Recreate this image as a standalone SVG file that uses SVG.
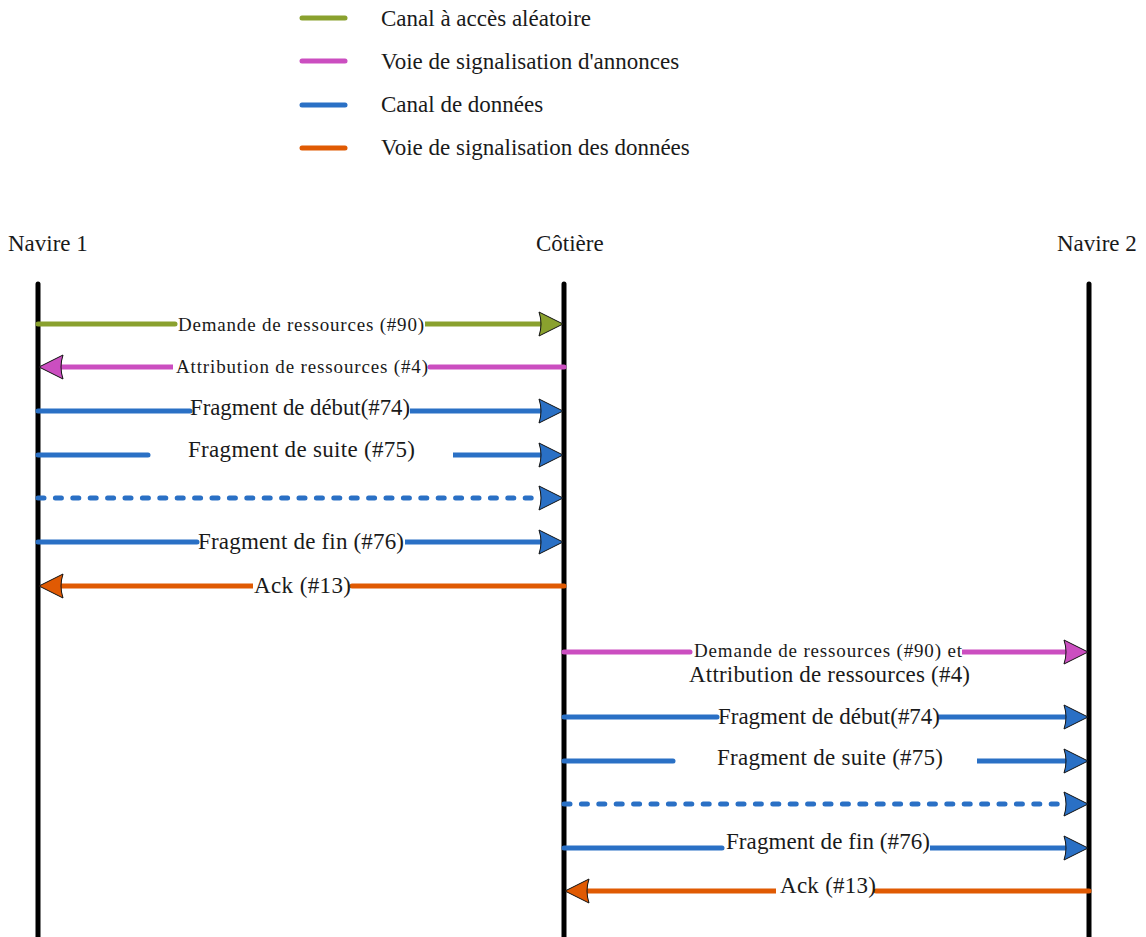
<svg xmlns="http://www.w3.org/2000/svg" width="1146" height="937" viewBox="0 0 1146 937">
  <style>
    text { font-family: "Liberation Serif", "Times New Roman", serif; fill: #1a1a1a; }
    .t { font-size: 23px; }
    .s { font-size: 19px; }
    .life { stroke: #000; stroke-width: 5; stroke-linecap: round; fill: none; }
    .ln { stroke-width: 5; stroke-linecap: round; fill: none; }
    .ln.cut { stroke-linecap: butt; }
    .green { stroke: #8AA12E; }
    .pink { stroke: #CB4EC0; }
    .blue { stroke: #2A70C5; }
    .orange { stroke: #E05A03; }
    .dot { stroke-dasharray: 6 11.4; }
    .head { stroke: #111; stroke-width: 1; }
    .hg { fill: #8AA12E; }
    .hp { fill: #CB4EC0; }
    .hb { fill: #2A70C5; }
    .ho { fill: #E05A03; }
  </style>
  <defs>
    <!-- arrowheads drawn with the tip at the origin -->
    <path id="headR" d="M0,0 L-24,-12 Q-20,0 -24,12 Z"/>
    <path id="headL" d="M0,0 L24,-12 Q20,0 24,12 Z"/>
  </defs>
  <rect width="1146" height="937" fill="#fff"/>

  <!-- legend -->
  <g id="legend">
    <line class="ln green" x1="302" y1="18" x2="345" y2="18"/>
    <text class="t" x="381" y="26">Canal à accès aléatoire</text>
    <line class="ln pink" x1="302" y1="61" x2="345" y2="61"/>
    <text class="t" x="381" y="69">Voie de signalisation d'annonces</text>
    <line class="ln blue" x1="302" y1="105" x2="345" y2="105"/>
    <text class="t" x="381" y="112">Canal de données</text>
    <line class="ln orange" x1="302" y1="148" x2="345" y2="148"/>
    <text class="t" x="381" y="155">Voie de signalisation des données</text>
  </g>

  <!-- participants -->
  <g id="navire1">
    <text class="t" x="8" y="251">Navire 1</text>
    <line class="life" x1="38" y1="284" x2="38" y2="945"/>
  </g>
  <g id="cotiere">
    <text class="t" x="536" y="251">Côtière</text>
    <line class="life" x1="564" y1="284" x2="564" y2="945"/>
  </g>
  <g id="navire2">
    <text class="t" x="1057" y="251">Navire 2</text>
    <line class="life" x1="1089" y1="284" x2="1089" y2="945"/>
  </g>

  <!-- messages -->
  <g id="connectors">
    <!-- Navire 1 <-> Côtière -->
    <g id="m1">
      <line class="ln green" x1="38" y1="324" x2="175" y2="324"/>
      <line class="ln cut green" x1="425" y1="324" x2="542" y2="324"/>
      <use href="#headR" class="head hg" x="563" y="324"/>
      <text class="s" x="178" y="331" textLength="246" lengthAdjust="spacing">Demande de ressources (#90)</text>
    </g>
    <g id="m2">
      <line class="ln cut pink" x1="61" y1="367" x2="173" y2="367"/>
      <line class="ln pink" x1="430" y1="367" x2="564" y2="367"/>
      <use href="#headL" class="head hp" x="39" y="367"/>
      <text class="s" x="176" y="373" textLength="252" lengthAdjust="spacing">Attribution de ressources (#4)</text>
    </g>
    <g id="m3">
      <line class="ln blue" x1="38" y1="411" x2="190" y2="411"/>
      <line class="ln cut blue" x1="410" y1="411" x2="542" y2="411"/>
      <use href="#headR" class="head hb" x="563" y="411"/>
      <text class="t" x="190" y="415" textLength="220" lengthAdjust="spacingAndGlyphs">Fragment de début(#74)</text>
    </g>
    <g id="m4">
      <line class="ln blue" x1="38" y1="455" x2="148" y2="455"/>
      <line class="ln cut blue" x1="453" y1="455" x2="542" y2="455"/>
      <use href="#headR" class="head hb" x="563" y="455"/>
      <text class="t" x="188" y="457" textLength="227" lengthAdjust="spacing">Fragment de suite (#75)</text>
    </g>
    <g id="m5">
      <line class="ln blue dot" x1="38" y1="498" x2="540" y2="498"/>
      <use href="#headR" class="head hb" x="563" y="498"/>
    </g>
    <g id="m6">
      <line class="ln blue" x1="38" y1="542" x2="197" y2="542"/>
      <line class="ln cut blue" x1="405" y1="542" x2="542" y2="542"/>
      <use href="#headR" class="head hb" x="563" y="542"/>
      <text class="t" x="198" y="549" textLength="206" lengthAdjust="spacing">Fragment de fin (#76)</text>
    </g>
    <g id="m7">
      <line class="ln cut orange" x1="61" y1="586" x2="253" y2="586"/>
      <line class="ln orange" x1="352" y1="586" x2="564" y2="586"/>
      <use href="#headL" class="head ho" x="39" y="586"/>
      <text class="t" x="254" y="593" textLength="97" lengthAdjust="spacing">Ack (#13)</text>
    </g>

    <!-- Côtière <-> Navire 2 -->
    <g id="m8">
      <line class="ln pink" x1="564" y1="652" x2="690" y2="652"/>
      <line class="ln cut pink" x1="962" y1="652" x2="1066" y2="652"/>
      <use href="#headR" class="head hp" x="1088" y="652"/>
      <text class="s" x="694" y="657" textLength="268" lengthAdjust="spacing">Demande de ressources (#90) et</text>
      <text class="t" x="689" y="682" textLength="281" lengthAdjust="spacing">Attribution de ressources (#4)</text>
    </g>
    <g id="m9">
      <line class="ln blue" x1="564" y1="717" x2="717" y2="717"/>
      <line class="ln cut blue" x1="937" y1="717" x2="1066" y2="717"/>
      <use href="#headR" class="head hb" x="1088" y="717"/>
      <text class="t" x="718" y="724" textLength="222" lengthAdjust="spacingAndGlyphs">Fragment de début(#74)</text>
    </g>
    <g id="m10">
      <line class="ln blue" x1="564" y1="761" x2="673" y2="761"/>
      <line class="ln cut blue" x1="977" y1="761" x2="1066" y2="761"/>
      <use href="#headR" class="head hb" x="1088" y="761"/>
      <text class="t" x="717" y="765" textLength="226" lengthAdjust="spacing">Fragment de suite (#75)</text>
    </g>
    <g id="m11">
      <line class="ln blue dot" x1="564" y1="804" x2="1065" y2="804"/>
      <use href="#headR" class="head hb" x="1088" y="804"/>
    </g>
    <g id="m12">
      <line class="ln blue" x1="564" y1="848" x2="722" y2="848"/>
      <line class="ln cut blue" x1="930" y1="848" x2="1066" y2="848"/>
      <use href="#headR" class="head hb" x="1088" y="848"/>
      <text class="t" x="726" y="849" textLength="204" lengthAdjust="spacing">Fragment de fin (#76)</text>
    </g>
    <g id="m13">
      <line class="ln cut orange" x1="587" y1="891" x2="776" y2="891"/>
      <line class="ln orange" x1="876" y1="891" x2="1089" y2="891"/>
      <use href="#headL" class="head ho" x="565" y="891"/>
      <text class="t" x="780" y="893" textLength="96" lengthAdjust="spacing">Ack (#13)</text>
    </g>
  </g>
</svg>
